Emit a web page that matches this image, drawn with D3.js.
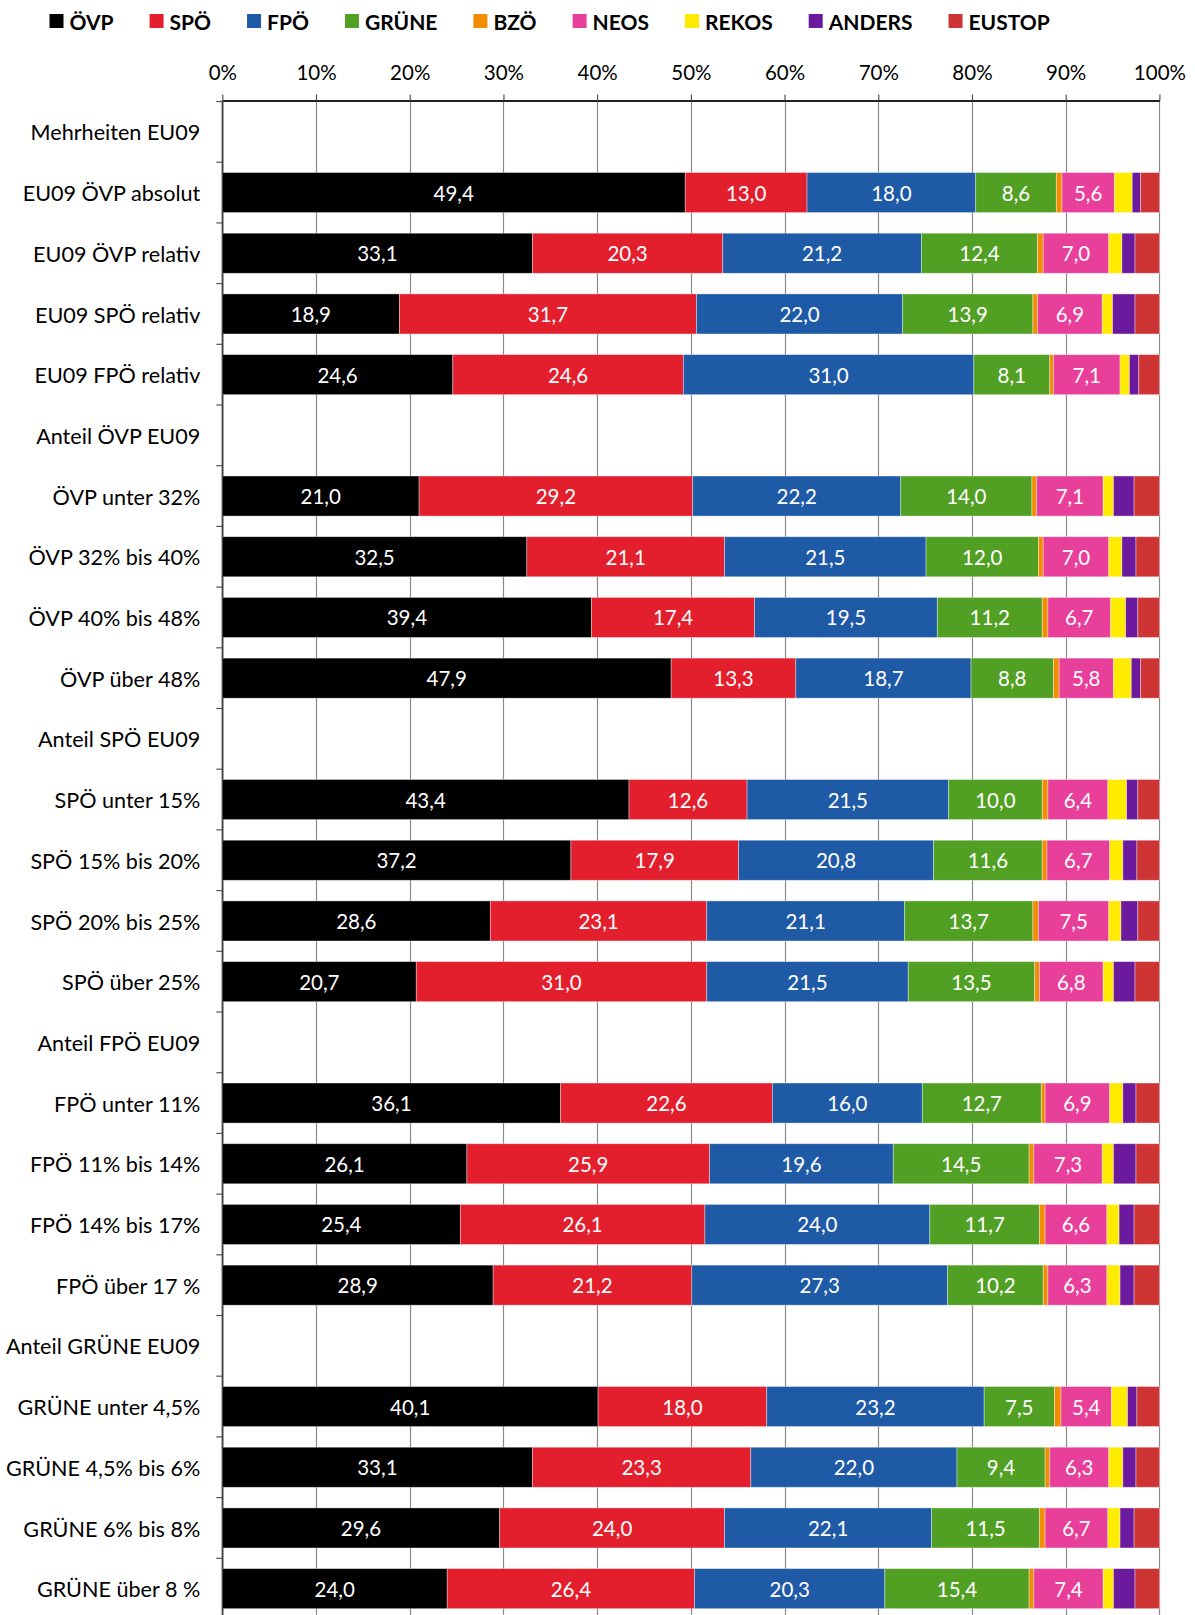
<!DOCTYPE html>
<html>
<head>
<meta charset="utf-8">
<script src="https://cdn.jsdelivr.net/npm/d3@7"></script>
<style>
  body { margin: 0; background: #fff; }
  svg { display: block; font-family: Lato, "Noto Sans", sans-serif; }
</style>
</head>
<body>
<svg id="chart" width="1195" height="1615"></svg>
<script>
// ---------- DATA ----------
const categories = [
  "Mehrheiten EU09", "EU09 ÖVP absolut", "EU09 ÖVP relativ", "EU09 SPÖ relativ", "EU09 FPÖ relativ",
  "Anteil ÖVP EU09", "ÖVP unter 32%", "ÖVP 32% bis 40%", "ÖVP 40% bis 48%", "ÖVP über 48%",
  "Anteil SPÖ EU09", "SPÖ unter 15%", "SPÖ 15% bis 20%", "SPÖ 20% bis 25%", "SPÖ über 25%",
  "Anteil FPÖ EU09", "FPÖ unter 11%", "FPÖ 11% bis 14%", "FPÖ 14% bis 17%", "FPÖ über 17 %",
  "Anteil GRÜNE EU09", "GRÜNE unter 4,5%", "GRÜNE 4,5% bis 6%", "GRÜNE 6% bis 8%", "GRÜNE über 8 %"
];
const parties = ["ÖVP", "SPÖ", "FPÖ", "GRÜNE", "BZÖ", "NEOS", "REKOS", "ANDERS", "EUSTOP"];
const partyColors = ["#000000", "#E31E2D", "#1F5AA6", "#52A023", "#F28C00", "#E8409A", "#FFEB00", "#6B1A9E", "#CF3434"];
const labelled = ["ÖVP", "SPÖ", "FPÖ", "GRÜNE", "NEOS"];

const OEVP   = [null, 49.4, 33.1, 18.9, 24.6, null, 21.0, 32.5, 39.4, 47.9, null, 43.4, 37.2, 28.6, 20.7, null, 36.1, 26.1, 25.4, 28.9, null, 40.1, 33.1, 29.6, 24.0];
const SPOE   = [null, 13.0, 20.3, 31.7, 24.6, null, 29.2, 21.1, 17.4, 13.3, null, 12.6, 17.9, 23.1, 31.0, null, 22.6, 25.9, 26.1, 21.2, null, 18.0, 23.3, 24.0, 26.4];
const FPOE   = [null, 18.0, 21.2, 22.0, 31.0, null, 22.2, 21.5, 19.5, 18.7, null, 21.5, 20.8, 21.1, 21.5, null, 16.0, 19.6, 24.0, 27.3, null, 23.2, 22.0, 22.1, 20.3];
const GRUENE = [null,  8.6, 12.4, 13.9,  8.1, null, 14.0, 12.0, 11.2,  8.8, null, 10.0, 11.6, 13.7, 13.5, null, 12.7, 14.5, 11.7, 10.2, null,  7.5,  9.4, 11.5, 15.4];
const BZOE   = [null,  0.6,  0.6,  0.5,  0.4, null,  0.5,  0.5,  0.6,  0.6, null,  0.6,  0.5,  0.6,  0.5, null,  0.4,  0.5,  0.6,  0.5, null,  0.7,  0.5,  0.6,  0.5];
const NEOS   = [null,  5.6,  7.0,  6.9,  7.1, null,  7.1,  7.0,  6.7,  5.8, null,  6.4,  6.7,  7.5,  6.8, null,  6.9,  7.3,  6.6,  6.3, null,  5.4,  6.3,  6.7,  7.4];
const REKOS  = [null,  1.9,  1.4,  1.1,  1.0, null,  1.1,  1.4,  1.6,  1.9, null,  2.0,  1.4,  1.3,  1.1, null,  1.4,  1.2,  1.3,  1.4, null,  1.7,  1.5,  1.3,  1.1];
const ANDERS = [null,  0.9,  1.4,  2.4,  1.0, null,  2.2,  1.5,  1.3,  1.0, null,  1.2,  1.5,  1.8,  2.3, null,  1.4,  2.4,  1.6,  1.5, null,  1.0,  1.4,  1.5,  2.3];
const EUSTOP = [null,  2.0,  2.6,  2.6,  2.2, null,  2.7,  2.5,  2.3,  2.0, null,  2.3,  2.4,  2.3,  2.6, null,  2.5,  2.5,  2.7,  2.7, null,  2.4,  2.5,  2.7,  2.6];
const seriesValues = [OEVP, SPOE, FPOE, GRUENE, BZOE, NEOS, REKOS, ANDERS, EUSTOP];
const tickValues = [0, 10, 20, 30, 40, 50, 60, 70, 80, 90, 100];

// ---------- LAYOUT ----------
const svg = d3.select("#chart");
const plotLeft = 222.3, plotRight = 1159.4, plotTop = 101.5, step = 60.7;
const plotBottom = plotTop + step * categories.length;

const x = d3.scaleLinear().domain([0, 100]).range([plotLeft, plotRight]);
const y = d3.scaleBand().domain(categories).range([plotTop, plotBottom])
  .paddingInner(0.34).paddingOuter(0.17);

// gridlines
svg.append("g").selectAll("line").data(tickValues.filter(d => d > 0)).join("line")
  .attr("x1", d => Math.round(x(d)) + 0.5).attr("x2", d => Math.round(x(d)) + 0.5)
  .attr("y1", plotTop - 2).attr("y2", plotBottom)
  .attr("stroke", "#8a8a8a").attr("stroke-width", 1.2);

// top axis
const xAxis = d3.axisTop(x).tickValues(tickValues).tickFormat(d => d + "%").tickSize(6).tickSizeOuter(0);
const gx = svg.append("g").attr("transform", `translate(0,${plotTop - 1})`).call(xAxis);
gx.select(".domain").attr("stroke", "#222").attr("stroke-width", 2.2);
gx.selectAll(".tick line").attr("stroke", "#555").attr("stroke-width", 1.2);
gx.selectAll(".tick text").attr("font-size", 20.5).attr("fill", "#000").attr("dy", "-0.55em")
  .attr("font-family", "Lato, sans-serif");

// left axis
const yAxis = d3.axisLeft(y).tickSize(0).tickPadding(22);
const gy = svg.append("g").attr("transform", `translate(${plotLeft},0)`).call(yAxis);
gy.select(".domain").attr("stroke", "#444").attr("stroke-width", 1.4);
gy.selectAll(".tick text").attr("font-size", 21.6).attr("fill", "#000").attr("font-family", "Lato, sans-serif")
  .attr("dy", "0.4em");

// band-boundary tick marks
svg.append("g").selectAll("line").data(d3.range(categories.length + 1)).join("line")
  .attr("x1", plotLeft - 6).attr("x2", plotLeft)
  .attr("y1", i => plotTop + i * step).attr("y2", i => plotTop + i * step)
  .attr("stroke", "#555").attr("stroke-width", 1.2);

// stacked bars
const rows = categories.map((c, i) => {
  const vals = seriesValues.map(s => s[i]);
  if (vals[0] === null) return { cat: c, segs: [] };
  const total = d3.sum(vals);
  let cum = 0;
  const segs = vals.map((v, k) => {
    const s = { party: parties[k], color: partyColors[k], v, x0: cum / total * 100, x1: (cum + v) / total * 100 };
    cum += v;
    return s;
  });
  return { cat: c, segs };
});

const rowG = svg.append("g").selectAll("g").data(rows).join("g")
  .attr("transform", d => `translate(0,${y(d.cat)})`);

rowG.selectAll("rect").data(d => d.segs).join("rect")
  .attr("x", d => x(d.x0)).attr("width", d => x(d.x1) - x(d.x0))
  .attr("y", 0).attr("height", y.bandwidth())
  .attr("fill", d => d.color)
  .attr("stroke", "rgba(255,255,255,0.45)").attr("stroke-width", 0.8);

rowG.selectAll("text").data(d => d.segs.filter(s => labelled.includes(s.party))).join("text")
  .attr("x", d => (x(d.x0) + x(d.x1)) / 2).attr("y", y.bandwidth() / 2)
  .attr("text-anchor", "middle").attr("dominant-baseline", "central")
  .attr("fill", "#fff").attr("font-size", 20.5)
  .text(d => d3.format(".1f")(d.v).replace(".", ","));

// redraw left axis line on top of bars
svg.append("line").attr("x1", plotLeft).attr("x2", plotLeft).attr("y1", plotTop - 1).attr("y2", plotBottom)
  .attr("stroke", "#444").attr("stroke-width", 1.4);

// legend
const legend = svg.append("g").attr("transform", "translate(49.5,21)");
let lx = 0;
parties.forEach((p, k) => {
  const g = legend.append("g").attr("transform", `translate(${lx},0)`);
  g.append("rect").attr("x", 0).attr("y", -7).attr("width", 14).attr("height", 14).attr("fill", partyColors[k]);
  const t = g.append("text").attr("x", 20).attr("y", 0).attr("dominant-baseline", "central")
    .attr("font-size", 21).attr("font-weight", "bold").attr("fill", "#000").text(p);
  lx += 20 + t.node().getComputedTextLength() + 36;
});
</script>
</body>
</html>
